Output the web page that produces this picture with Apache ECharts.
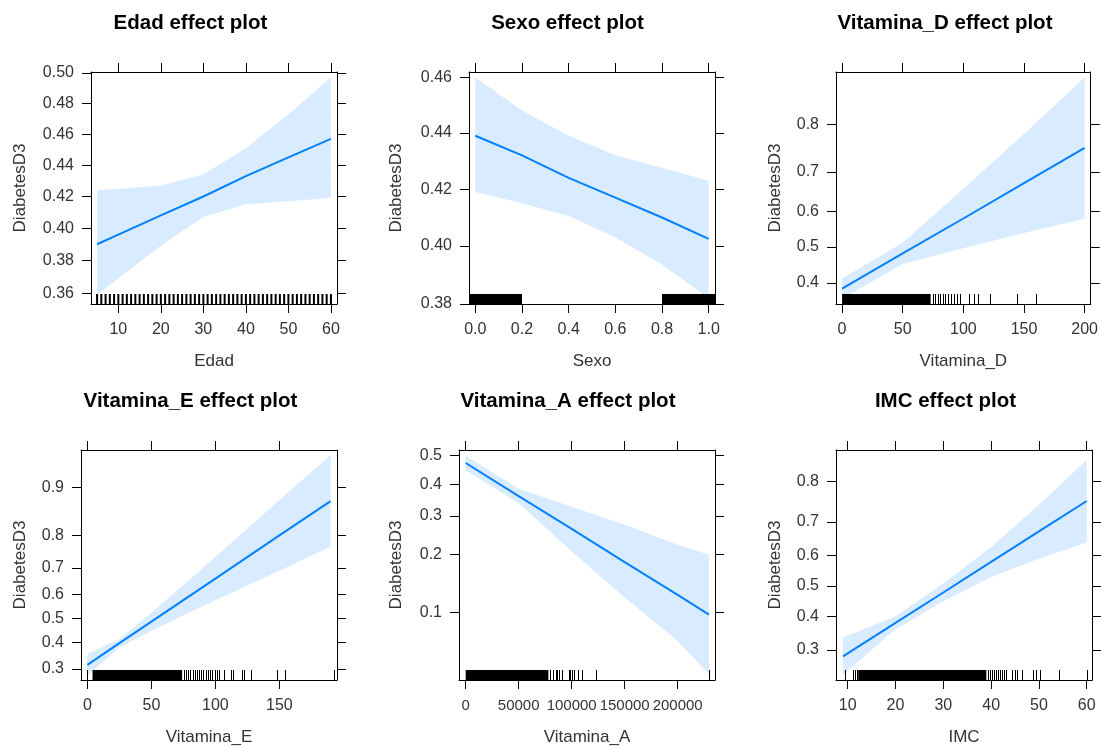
<!DOCTYPE html>
<html>
<head>
<meta charset="utf-8">
<script src="https://cdn.jsdelivr.net/npm/echarts@6/dist/echarts.min.js"></script>
<style>
  html, body { margin: 0; padding: 0; background: #fff; }
  #chart { width: 1101px; height: 747px; }
</style>
</head>
<body>
<div id="chart"></div>
<script>
// --- Edad ---
const edadX = [5, 10, 20, 30, 40, 50, 60];
const edadFit = [0.390, 0.396, 0.408, 0.420, 0.433, 0.445, 0.457];
const edadLower = [0.359, 0.369, 0.389, 0.407, 0.415, 0.417, 0.419];
const edadUpper = [0.424, 0.425, 0.427, 0.434, 0.451, 0.473, 0.497];
const edadRug = [5, 6, 7, 8, 9, 10, 11, 12, 13, 14, 15, 16, 17, 18, 19, 20, 21, 22, 23, 24, 25, 26, 27, 28,
  29, 30, 31, 32, 33, 34, 35, 36, 37, 38, 39, 40, 41, 42, 43, 44, 45, 46, 47, 48, 49, 50, 51, 52, 53, 54,
  55, 56, 57, 58, 59, 60];
const edadXTicks = ['10', '20', '30', '40', '50', '60'];
const edadYTicks = ['0.36', '0.38', '0.40', '0.42', '0.44', '0.46', '0.48', '0.50'];

// --- Sexo ---
const sexoX = [0, 0.2, 0.4, 0.6, 0.8, 1];
const sexoFit = [0.439, 0.432, 0.424, 0.417, 0.410, 0.4025];
const sexoLower = [0.419, 0.415, 0.4105, 0.403, 0.3936, 0.382];
const sexoUpper = [0.460, 0.448, 0.439, 0.432, 0.4276, 0.423];
const sexoRugBlocks = [[-0.03, 0.2], [0.8, 1.03]];
const sexoXTicks = ['0.0', '0.2', '0.4', '0.6', '0.8', '1.0'];
const sexoYTicks = ['0.38', '0.40', '0.42', '0.44', '0.46'];

// --- Vitamina_D ---
const vitDX = [0, 50, 100, 150, 200];
const vitDFit = [0.385, 0.482, 0.580, 0.673, 0.754];
const vitDLower = [0.358, 0.452, 0.497, 0.540, 0.579];
const vitDUpper = [0.412, 0.512, 0.659, 0.782, 0.872];
const vitDRug = [75, 77, 79, 81, 83, 85, 87, 89.5, 92, 94.5, 97.5, 105, 108.5, 112, 122, 144, 160];
const vitDRugBlocks = [[0, 73]];
const vitDXTicks = ['0', '50', '100', '150', '200'];
const vitDYTicks = ['0.4', '0.5', '0.6', '0.7', '0.8'];

// --- Vitamina_E ---
const vitEX = [0, 25, 50, 100, 150, 190];
const vitEFit = [0.315, 0.398, 0.487, 0.661, 0.801, 0.877];
const vitELower = [0.278, 0.381, 0.449, 0.576, 0.690, 0.769];
const vitEUpper = [0.355, 0.415, 0.524, 0.737, 0.879, 0.939];
const vitERug = [0, 75.5, 77, 78.5, 80.5, 82.5, 84, 85.5, 87.5, 89, 90.5, 92.5, 94.5, 96, 97.5, 99.5, 101, 103,
  107, 112.5, 114, 120.5, 122.5, 128, 148, 154, 193];
const vitERugBlocks = [[4, 74]];
const vitEXTicks = ['0', '50', '100', '150'];
const vitEYTicks = ['0.3', '0.4', '0.5', '0.6', '0.7', '0.8', '0.9'];

// --- Vitamina_A ---
const vitAX = [0, 50000, 100000, 150000, 200000, 229500];
const vitAFit = [0.473, 0.361, 0.263, 0.183, 0.124, 0.097];
const vitALower = [0.448, 0.339, 0.206, 0.120, 0.069, 0.0445];
const vitAUpper = [0.498, 0.385, 0.327, 0.274, 0.222, 0.199];
const vitARug = [79500, 82000, 85000, 86500, 88500, 90500, 97000, 98500, 100500, 102500, 106000, 110000,
  122500, 230000];
const vitARugBlocks = [[0, 78000]];
const vitAXTicks = ['0', '50000', '100000', '150000', '200000'];
const vitAYTicks = ['0.1', '0.2', '0.3', '0.4', '0.5'];

// --- IMC ---
const imcX = [9, 20, 30, 40, 50, 60];
const imcFit = [0.282, 0.380, 0.478, 0.579, 0.673, 0.755];
const imcLower = [0.235, 0.359, 0.449, 0.529, 0.589, 0.640];
const imcUpper = [0.335, 0.401, 0.508, 0.626, 0.746, 0.842];
const imcRug = [9.5, 11.2, 11.6, 11.9, 39.3, 39.7, 40.1, 40.5, 41, 41.4, 41.8, 42.2, 42.6, 43.1, 44.3, 44.9,
  45.4, 46.4, 48.7, 49.3, 50.3, 54.3, 60];
const imcRugBlocks = [[12.2, 39]];
const imcXTicks = ['10', '20', '30', '40', '50', '60'];
const imcYTicks = ['0.3', '0.4', '0.5', '0.6', '0.7', '0.8'];

// y軸はロジットスケール
const logit = p => Math.log(p / (1 - p));

const FONT = '"Liberation Sans", Arial, sans-serif';
const LINE_COL = '#0080ff';
const BAND_COL = 'rgba(0,128,255,0.15)';

// パネルごとの配置
const panels = [
  { title: 'Edad effect plot', xName: 'Edad', x: edadX, fit: edadFit, lower: edadLower, upper: edadUpper,
    rug: edadRug, rugBlocks: [], rugWidth: 2, xTicks: edadXTicks, yTicks: edadYTicks, xLabelSize: 16,
    grid: { left: 91, top: 72, width: 246, height: 232 }, xRange: [3.57, 61.43], yRange: [0.3536, 0.5005],
    titleX: 190.5, titleY: 23, yNameGap: 62 },
  { title: 'Sexo effect plot', xName: 'Sexo', x: sexoX, fit: sexoFit, lower: sexoLower, upper: sexoUpper,
    rug: [], rugBlocks: sexoRugBlocks, rugWidth: 1, xTicks: sexoXTicks, yTicks: sexoYTicks, xLabelSize: 16,
    grid: { left: 469, top: 72, width: 246, height: 232 }, xRange: [-0.027, 1.027], yRange: [0.38, 0.4619],
    titleX: 567.5, titleY: 23, yNameGap: 64 },
  { title: 'Vitamina_D effect plot', xName: 'Vitamina_D', x: vitDX, fit: vitDFit, lower: vitDLower, upper: vitDUpper,
    rug: vitDRug, rugBlocks: vitDRugBlocks, rugWidth: 1, xTicks: vitDXTicks, yTicks: vitDYTicks, xLabelSize: 16,
    grid: { left: 836, top: 72, width: 256, height: 232 }, xRange: [-5, 205], yRange: [0.3445, 0.8785],
    titleX: 945, titleY: 23, yNameGap: 52 },
  { title: 'Vitamina_E effect plot', xName: 'Vitamina_E', x: vitEX, fit: vitEFit, lower: vitELower, upper: vitEUpper,
    rug: vitERug, rugBlocks: vitERugBlocks, rugWidth: 1, xTicks: vitEXTicks, yTicks: vitEYTicks, xLabelSize: 16,
    grid: { left: 81, top: 450, width: 256, height: 232 }, xRange: [-5, 195], yRange: [0.2630, 0.9438],
    titleX: 190.5, titleY: 401.5, yNameGap: 52 },
  { title: 'Vitamina_A effect plot', xName: 'Vitamina_A', x: vitAX, fit: vitAFit, lower: vitALower, upper: vitAUpper,
    rug: vitARug, rugBlocks: vitARugBlocks, rugWidth: 1, xTicks: vitAXTicks, yTicks: vitAYTicks, xLabelSize: 15,
    grid: { left: 459, top: 450, width: 256, height: 232 }, xRange: [-6300, 235200], yRange: [0.0412, 0.5185],
    titleX: 568, titleY: 401.5, yNameGap: 54 },
  { title: 'IMC effect plot', xName: 'IMC', x: imcX, fit: imcFit, lower: imcLower, upper: imcUpper,
    rug: imcRug, rugBlocks: imcRugBlocks, rugWidth: 1, xTicks: imcXTicks, yTicks: imcYTicks, xLabelSize: 16,
    grid: { left: 836, top: 450, width: 256, height: 232 }, xRange: [7.55, 61.1], yRange: [0.2230, 0.8584],
    titleX: 945.5, titleY: 401.5, yNameGap: 52 }
];

// 一番近い目盛りのラベルを返す
function labelFor(vals, labels, v) {
  let best = 0;
  vals.forEach((t, k) => { if (Math.abs(t - v) < Math.abs(vals[best] - v)) best = k; });
  return labels[best];
}

const grids = [], xAxes = [], yAxes = [], series = [], graphics = [];

panels.forEach((p, i) => {
  grids.push(p.grid);

  const xVals = p.xTicks.map(Number);
  const yVals = p.yTicks.map(t => logit(Number(t)));
  const yMin = logit(p.yRange[0]);
  const yMax = logit(p.yRange[1]);
  const axisLine = { show: true, onZero: false, lineStyle: { color: '#000', width: 1 } };
  const tick = vals => ({ show: true, inside: false, length: 9, customValues: vals, lineStyle: { color: '#000', width: 1 } });
  const labelStyle = { fontSize: 16, color: '#333', fontFamily: FONT, margin: 18,
    hideOverlap: false, showMinLabel: true, showMaxLabel: true };

  // 下のx軸（ラベルあり）と上のx軸（目盛りのみ）
  xAxes.push({
    gridIndex: i, type: 'value', position: 'bottom', min: p.xRange[0], max: p.xRange[1],
    axisLine, axisTick: tick(xVals), splitLine: { show: false },
    axisLabel: Object.assign({ customValues: xVals, formatter: v => labelFor(xVals, p.xTicks, v) }, labelStyle,
      { fontSize: p.xLabelSize }),
    name: p.xName, nameLocation: 'middle', nameGap: 49,
    nameTextStyle: { fontSize: 17, color: '#333', fontFamily: FONT }
  });
  xAxes.push({
    gridIndex: i, type: 'value', position: 'top', min: p.xRange[0], max: p.xRange[1],
    axisLine, axisTick: tick(xVals), axisLabel: { show: false }, splitLine: { show: false }
  });

  // 左のy軸（ラベルあり）と右のy軸（目盛りのみ）
  yAxes.push({
    gridIndex: i, type: 'value', position: 'left', min: yMin, max: yMax,
    axisLine, axisTick: tick(yVals), splitLine: { show: false },
    axisLabel: Object.assign({ customValues: yVals, formatter: v => labelFor(yVals, p.yTicks, v) }, labelStyle, { margin: 17 }),
    name: 'DiabetesD3', nameLocation: 'middle', nameGap: p.yNameGap,
    nameTextStyle: { fontSize: 17, color: '#333', fontFamily: FONT }
  });
  yAxes.push({
    gridIndex: i, type: 'value', position: 'right', min: yMin, max: yMax,
    axisLine, axisTick: tick(yVals), axisLabel: { show: false }, splitLine: { show: false }
  });

  const xi = 2 * i;

  // 信頼区間の帯
  series.push({
    type: 'custom', xAxisIndex: xi, yAxisIndex: xi, clip: true, silent: true, z: 1,
    data: p.x.map((x, k) => [x, logit(p.lower[k]), logit(p.upper[k])]),
    encode: { x: 0, y: [1, 2] },
    renderItem: (params, api) => {
      if (params.dataIndex !== 0) return null;
      const top = p.x.map((x, k) => api.coord([x, logit(p.upper[k])]));
      const bottom = p.x.map((x, k) => api.coord([x, logit(p.lower[k])])).reverse();
      return { type: 'polygon', shape: { points: top.concat(bottom) }, style: { fill: BAND_COL } };
    }
  });

  // 推定値の線
  series.push({
    type: 'line', xAxisIndex: xi, yAxisIndex: xi, silent: true, z: 2,
    data: p.x.map((x, k) => [x, logit(p.fit[k])]),
    symbol: 'none', lineStyle: { color: LINE_COL, width: 2 }, itemStyle: { color: LINE_COL }
  });

  // ラグ（1本ずつ）
  series.push({
    type: 'custom', xAxisIndex: xi, yAxisIndex: xi, clip: true, silent: true, z: 3,
    data: p.rug.map(v => [v, yMin]),
    encode: { x: 0, y: 1 },
    renderItem: (params, api) => {
      const cs = params.coordSys;
      let px = api.coord([api.value(0), api.value(1)])[0];
      if (p.rugWidth === 1) px = Math.round(px) + 0.5;
      const y0 = cs.y + cs.height;
      return { type: 'line', shape: { x1: px, y1: y0, x2: px, y2: y0 - 10 },
        style: { stroke: '#000', lineWidth: p.rugWidth } };
    }
  });

  // ラグが密集している区間
  series.push({
    type: 'custom', xAxisIndex: xi, yAxisIndex: xi, clip: true, silent: true, z: 3,
    data: p.rugBlocks.map(b => [b[0], b[1], yMin]),
    encode: { x: [0, 1], y: 2 },
    renderItem: (params, api) => {
      const cs = params.coordSys;
      const a = Math.max(api.coord([api.value(0), api.value(2)])[0], cs.x);
      const b = Math.min(api.coord([api.value(1), api.value(2)])[0], cs.x + cs.width);
      const y0 = cs.y + cs.height;
      return { type: 'rect', shape: { x: a, y: y0 - 10, width: b - a, height: 10 }, style: { fill: '#000' } };
    }
  });

  // タイトル
  graphics.push({
    type: 'text', x: p.titleX, y: p.titleY,
    style: { text: p.title, textAlign: 'center', textVerticalAlign: 'middle',
      font: 'bold 20.5px ' + FONT, fill: '#000' }
  });
});

const chart = echarts.init(document.getElementById('chart'), null, { renderer: 'canvas' });
chart.setOption({
  animation: false,
  backgroundColor: '#fff',
  textStyle: { fontFamily: FONT },
  grid: grids,
  xAxis: xAxes,
  yAxis: yAxes,
  series: series,
  graphic: graphics
});
</script>
</body>
</html>
